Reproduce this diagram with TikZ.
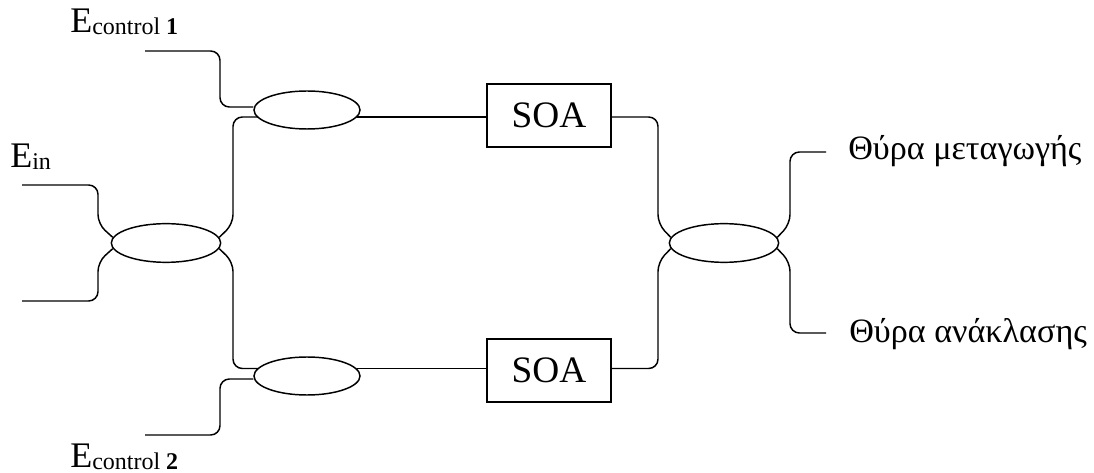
\documentclass[tikz,border=0pt]{standalone}
\usepackage{fontspec}
\setmainfont{Liberation Serif}
\usetikzlibrary{shapes.geometric}
\usetikzlibrary{positioning}
\newcommand{\lowtext}[1]{\raisebox{-1.5pt}{\fontsize{18}{18}\selectfont #1}}

\begin{document}
\begin{tikzpicture}[x=0.75pt,y=-0.75pt,
    wire/.style = {draw, line width=1.1pt, rounded corners=7pt},
    coupler/.style = {draw, ellipse, line width=1.1pt, minimum width=79.5pt, minimum height=28.5pt, inner sep=0pt},
    couplerwide/.style = {coupler, minimum width=82pt, minimum height=29pt},
    amp/.style = {draw, line width=1.1pt, minimum width=93pt, minimum height=47pt, inner sep=0pt, font=\fontsize{28}{28}\selectfont},
    port/.style = {inner sep=0pt, font=\fontsize{25.6}{28}\selectfont},
    source/.style = {inner sep=0pt, font=\fontsize{27}{28}\selectfont}]
    \useasboundingbox (0,0) rectangle (1094,473);
    % couplers
    \node [couplerwide] (cplIn) at (166,243) {};
    \node [coupler] (cplUp) at (307,110) {};
    \node [coupler] (cplDown) at (307,376) {};
    \node [couplerwide] (cplOut) at (724,243) {};
    % amplifiers
    \node [amp] (soaUp) at (549,115.5) {SOA};
    \node [amp] (soaDown) at (549,370.5) {SOA};
    % labels
    \node [source,anchor=base west] (lblCtrlA) at (70,33) {E\lowtext{control \textbf{1}}};
    \node [source,anchor=base west] (lblIn) at (10,168) {E\lowtext{in}};
    \node [source,anchor=base west] (lblCtrlB) at (70,467) {E\lowtext{control \textbf{2}}};
    \node [port,anchor=base west] (lblSwitch) at (848,160) {Θύρα μεταγωγής};
    \node [port,anchor=base west] (lblReflect) at (849,343) {Θύρα ανάκλασης};
    % free ends
    \coordinate (endCtrlA) at (145,51);
    \coordinate (endCtrlB) at (145,435);
    \coordinate (endIn) at (22,185);
    \coordinate (endIdle) at (22,301);
    \coordinate (endSwitch) at (826,152);
    \coordinate (endReflect) at (826,333);
    % tapping points on the small couplers
    \coordinate (tapUpIn) at (258,117);
    \coordinate (tapUpOut) at (357,117);
    \coordinate (tapDownIn) at (258,368.5);
    \coordinate (tapDownOut) at (357,368.5);
    % fibres
    \draw [wire] (endCtrlA) -- (220,51) -- (220,107) -- (cplUp.west |- 0,107);
    \draw [wire] (endCtrlB) -- (220,435) -- (220,379) -- (cplDown.west |- 0,379);
    \draw [wire] (endIn) -- (98,185) -- (98,224) -- (cplIn.174);
    \draw [wire] (endIdle) -- (98,301) -- (98,262) -- (cplIn.186);
    \draw [wire] (cplIn.6) -- (233,224) -- (233,117) -- (tapUpIn);
    \draw [wire] (cplIn.354) -- (233,262) -- (233,368.5) -- (tapDownIn);
    \draw [wire] (tapUpOut) -- (soaUp.west |- tapUpOut);
    \draw [wire] (tapDownOut) -- (soaDown.west |- tapDownOut);
    \draw [wire] (soaUp.east |- tapUpOut) -- (658,117) -- (658,224) -- (cplOut.174);
    \draw [wire] (soaDown.east |- tapDownOut) -- (658,368.5) -- (658,262) -- (cplOut.186);
    \draw [wire] (cplOut.6) -- (790,224) -- (790,152) -- (endSwitch);
    \draw [wire] (cplOut.354) -- (790,262) -- (790,333) -- (endReflect);
\end{tikzpicture}
\end{document}
